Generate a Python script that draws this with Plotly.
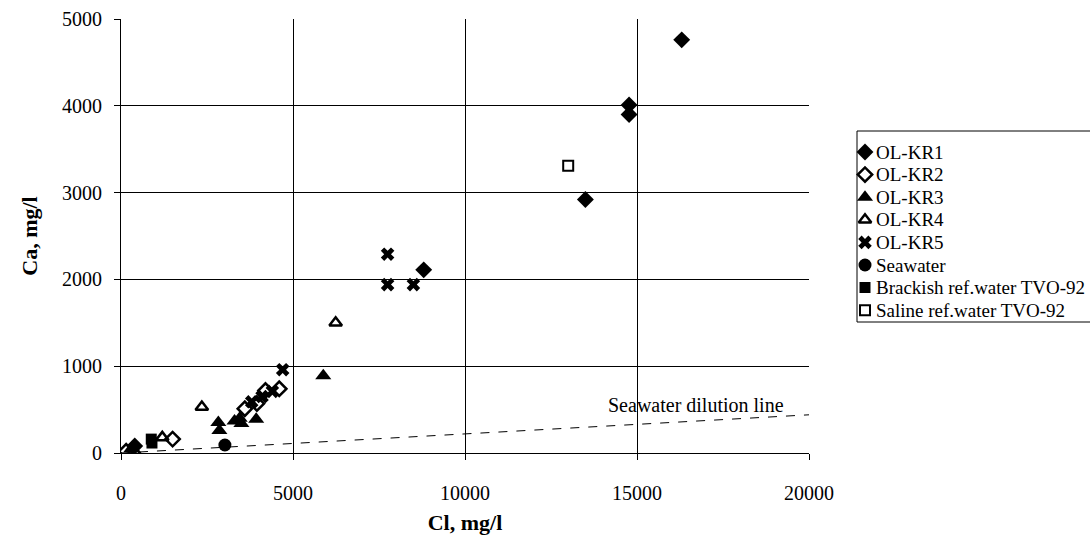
import plotly.graph_objects as go

# ---- data (Cl, mg/l ; Ca, mg/l) ----
kr1_cl = [400, 8800, 13500, 14770, 14770, 16300]
kr1_ca = [80, 2110, 2920, 4010, 3900, 4760]

kr2_cl = [150, 1500, 3600, 3950, 4200, 4600]
kr2_ca = [20, 160, 510, 570, 720, 740]

kr3_cl = [300, 2830, 2860, 3300, 3450, 3500, 3930, 5880]
kr3_ca = [50, 350, 260, 370, 400, 340, 390, 890]

kr4_cl = [390, 1200, 2350, 6240]
kr4_ca = [20, 180, 530, 1500]

kr5_cl = [3800, 4100, 4400, 4700, 7750, 7750, 8500]
kr5_ca = [590, 650, 710, 960, 2290, 1940, 1940]

sea_cl = [3020]
sea_ca = [92]

brackish_cl = [880, 900]
brackish_ca = [160, 115]

saline_cl = [13000]
saline_ca = [3310]

dil_cl = [0, 20000]
dil_ca = [0, 440]

x_ticks = [0, 5000, 10000, 15000, 20000]
y_ticks = [0, 1000, 2000, 3000, 4000, 5000]

FONT = "Liberation Serif"
W, H = 1090, 545
SCR_L, SCR_R, SCR_T, SCR_B = 121, 809, 19, 453   # plot area in pixels
ML, MT = SCR_L, SCR_T
MB = H - SCR_B
plot_w = W - ML
main_frac = (SCR_R - SCR_L) / plot_w
leg_frac0 = 0.72
x2_start = ML + leg_frac0 * plot_w
x2_end = W

fig = go.Figure()

fig.add_trace(go.Scatter(x=dil_cl, y=dil_ca, mode="lines",
                         line=dict(color="black", width=1, dash="dash"),
                         showlegend=False, hoverinfo="skip"))

series = [
    ("OL-KR1", kr1_cl, kr1_ca, "diamond", 13, 0),
    ("OL-KR2", kr2_cl, kr2_ca, "diamond-open", 11, 2.5),
    ("OL-KR3", kr3_cl, kr3_ca, "triangle-up", 14, 0),
    ("OL-KR4", kr4_cl, kr4_ca, "triangle-up-open", 11, 2.5),
    ("OL-KR5", kr5_cl, kr5_ca, "x", 12, 0),
    ("Seawater", sea_cl, sea_ca, "circle", 13, 0),
    ("Brackish ref.water TVO-92", brackish_cl, brackish_ca, "square", 11, 0),
    ("Saline ref.water TVO-92", saline_cl, saline_ca, "square-open", 10, 2),
]

# ---- custom legend (pixel coordinates on hidden axes) ----
leg_x0, leg_top, leg_bottom = 857, 131, 322
leg_first, leg_step = 152, 22.6
leg_mx, leg_tx = 865, 874

for i, (name, xs, ys, sym, size, lw) in enumerate(series):
    mk = dict(symbol=sym, size=size, color="black", line=dict(color="black", width=lw))
    fig.add_trace(go.Scatter(x=xs, y=ys, mode="markers", name=name, marker=mk,
                             showlegend=False, xaxis="x", yaxis="y"))
    ly = leg_first + leg_step * i
    fig.add_trace(go.Scatter(x=[leg_mx], y=[ly], mode="markers", marker=mk,
                             showlegend=False, hoverinfo="skip", xaxis="x2", yaxis="y2"))
    fig.add_annotation(x=leg_tx, y=ly, xref="x2", yref="y2", text=name, showarrow=False,
                       xanchor="left", yanchor="middle",
                       font=dict(family=FONT, size=19, color="black"))

# legend frame (open on the right, where the original is cut off)
fig.add_shape(type="path", xref="x2", yref="y2",
              path=f"M {x2_end + 20},{leg_top} L {leg_x0},{leg_top} L {leg_x0},{leg_bottom} L {x2_end + 20},{leg_bottom}",
              line=dict(color="black", width=1), layer="below")

fig.add_annotation(x=16715, y=553, xref="x", yref="y", text="Seawater dilution line",
                   showarrow=False, font=dict(family=FONT, size=20, color="black"))

axis_common = dict(
    showgrid=True, gridcolor="black", gridwidth=1,
    showline=True, linecolor="black", linewidth=1,
    ticks="outside", ticklen=6, tickcolor="black",
    zeroline=False, automargin=False,
    tickfont=dict(family=FONT, size=20, color="black"),
)

fig.update_layout(
    xaxis=dict(domain=[0, main_frac], range=[0, 20000], tickvals=x_ticks,
               ticktext=[str(v) for v in x_ticks], ticklabelstandoff=16,
               title=dict(text="<b>Cl, mg/l</b>", font=dict(family=FONT, size=22, color="black"),
                          standoff=11),
               **axis_common),
    yaxis=dict(range=[0, 5000], tickvals=y_ticks, ticktext=[str(v) for v in y_ticks],
               ticklabelstandoff=8,
               title=dict(text="<b>Ca, mg/l</b>", font=dict(family=FONT, size=22, color="black"),
                          standoff=18),
               **axis_common),
    xaxis2=dict(domain=[leg_frac0, 1], range=[x2_start, x2_end], visible=False,
                anchor="y2", fixedrange=True),
    yaxis2=dict(domain=[0, 1], range=[SCR_B, SCR_T], visible=False, anchor="x2", fixedrange=True),
    width=W, height=H,
    margin=dict(l=ML, r=0, t=MT, b=MB),
    paper_bgcolor="white", plot_bgcolor="white",
    font=dict(family=FONT, color="black"),
    showlegend=False,
)

fig.write_html("out.html", config={"displayModeBar": False},
               post_script="document.body.style.margin='0';document.body.style.overflow='hidden';")
